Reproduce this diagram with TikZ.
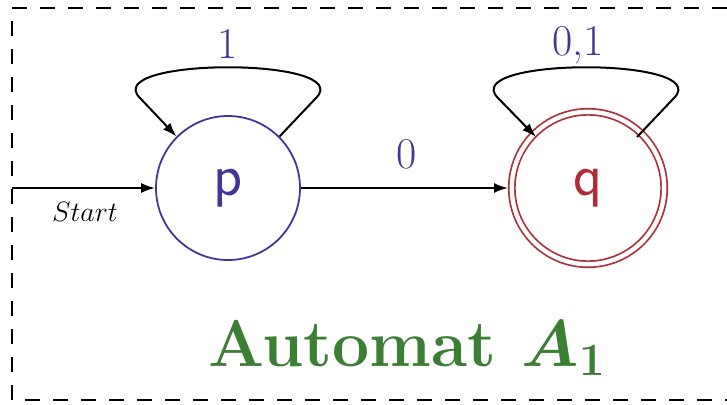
\RequirePackage{fix-cm}
\documentclass[tikz,border=0pt]{standalone}
\usetikzlibrary{arrows.meta}
\definecolor{stblue}{RGB}{70,52,152}
\definecolor{stred}{RGB}{174,44,56}
\definecolor{ttlgreen}{RGB}{60,126,52}
\begin{document}
\begin{tikzpicture}[x=0.5pt,y=0.5pt,
  edgeline/.style={line width=1pt,-{Latex[length=7pt,width=5pt]}},
  lbl/.style={text=stblue,font=\fontsize{22}{24}\selectfont,anchor=base,inner sep=0pt},
  statep/.style={circle,draw=stblue,line width=0.9pt,minimum size=72pt,inner sep=0pt,
    text=stblue,font=\fontsize{30}{32}\selectfont\sffamily},
  stateq/.style={circle,draw=stred,double,double distance=2.2pt,line width=0.85pt,
    minimum size=76.2pt,inner sep=0pt,outer sep=1.9pt,
    text=stred,font=\fontsize{30}{32}\selectfont\sffamily}]
\useasboundingbox (0,0) rectangle (727,404);
% frame
\coordinate (f1) at (12,396);
\coordinate (f2) at (740,396);
\coordinate (f3) at (740,4);
\coordinate (f4) at (12,4);
\draw[line width=1pt,dash pattern=on 7.5pt off 6.5pt] (f4) -- (f1) -- (f2) (f3) -- (f4);
% states
\node[statep] (p) at (228,216) {p};
\node[stateq] (q) at (588,216) {q};
% start arrow
\coordinate (s0) at (12,216);
\draw[edgeline] (s0) -- (p);
\node[anchor=base,inner sep=0pt,font=\fontsize{14}{16}\selectfont] (st) at (85,183) {$Start$};
% p -> q
\draw[edgeline] (p) -- (q);
\node[lbl] (l0) at (407,236) {0};
% loop p
\coordinate (pa) at (316,306);
\coordinate (pc1) at (357,347);
\coordinate (pc2) at (99,347);
\coordinate (pb) at (140,306);
\draw[edgeline] (p.45) -- (pa) .. controls (pc1) and (pc2) .. (pb) -- (p.135);
\node[lbl] (l1) at (228,346) {1};
% loop q
\coordinate (qs) at (637,267);
\coordinate (qe) at (536,267);
\coordinate (qa) at (674,306);
\coordinate (qc1) at (715,347);
\coordinate (qc2) at (457,347);
\coordinate (qb) at (498,306);
\draw[edgeline] (qs) -- (qa) .. controls (qc1) and (qc2) .. (qb) -- (qe);
\node[lbl] (l01) at (578,349) {0,1};
% title
\node[anchor=base west,inner sep=0pt,text=ttlgreen,
  font=\fontsize{33}{40}\selectfont\bfseries\boldmath] (ttl) at (208,38) {Automat $A_1$};
\end{tikzpicture}
\end{document}
